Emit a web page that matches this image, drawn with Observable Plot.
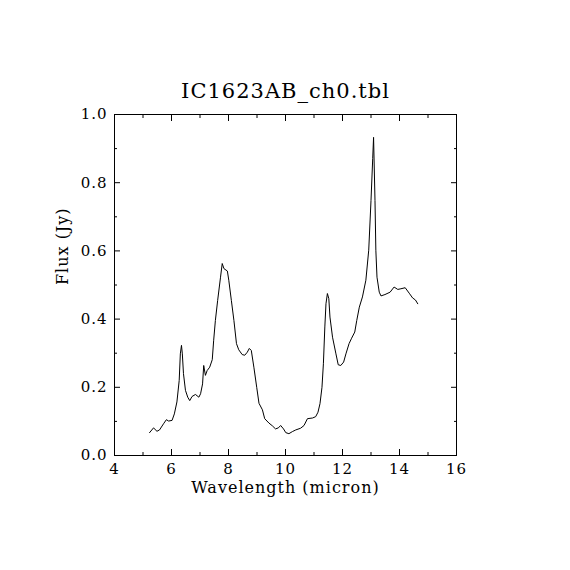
<!DOCTYPE html>
<html>
<head>
<meta charset="utf-8">
<script src="https://cdn.jsdelivr.net/npm/d3@7"></script>
<script src="https://cdn.jsdelivr.net/npm/@observablehq/plot@0.6"></script>
<style>
  html, body { margin: 0; padding: 0; background: #fff; }
</style>
</head>
<body>
<div id="chart"></div>
<script>
// IRS spectrum of IC1623AB (channel 0): wavelength in micron, flux in Jy
const wavelength = [
  5.23, 5.37, 5.49, 5.58, 5.72, 5.82, 5.90, 6.02, 6.10, 6.19, 6.27, 6.31, 6.35, 6.38,
  6.42, 6.49, 6.57, 6.64, 6.72, 6.84, 6.96, 7.02, 7.09, 7.13, 7.19, 7.25, 7.34, 7.43,
  7.48, 7.54, 7.62, 7.72, 7.78, 7.84, 7.96, 8.01, 8.10, 8.19, 8.28, 8.36, 8.48, 8.57,
  8.66, 8.73, 8.80, 8.89, 8.99, 9.07, 9.19, 9.27, 9.42, 9.54, 9.65, 9.75, 9.83, 9.93,
  10.01, 10.12, 10.24, 10.36, 10.53, 10.65, 10.77, 10.95, 11.06, 11.14, 11.21, 11.28,
  11.33, 11.38, 11.42, 11.47, 11.52, 11.56, 11.65, 11.77, 11.85, 11.94, 12.04, 12.12,
  12.23, 12.32, 12.43, 12.50, 12.59, 12.70, 12.82, 12.92, 13.00, 13.06, 13.09, 13.14,
  13.17, 13.21, 13.29, 13.35, 13.49, 13.67, 13.81, 13.94, 14.05, 14.20, 14.34, 14.46,
  14.56, 14.64
];
const flux = [
  0.067, 0.081, 0.071, 0.075, 0.093, 0.105, 0.101, 0.103, 0.122, 0.157, 0.220, 0.298, 0.323, 0.298,
  0.240, 0.191, 0.171, 0.161, 0.173, 0.179, 0.171, 0.181, 0.210, 0.264, 0.235, 0.249, 0.259, 0.281,
  0.338, 0.396, 0.455, 0.523, 0.563, 0.548, 0.541, 0.514, 0.455, 0.396, 0.328, 0.310, 0.296, 0.294,
  0.303, 0.314, 0.308, 0.259, 0.200, 0.153, 0.134, 0.108, 0.095, 0.087, 0.078, 0.081, 0.088, 0.078,
  0.067, 0.064, 0.070, 0.075, 0.080, 0.088, 0.108, 0.110, 0.114, 0.127, 0.152, 0.200,
  0.269, 0.377, 0.445, 0.475, 0.460, 0.406, 0.347, 0.298, 0.266, 0.264, 0.274, 0.298,
  0.328, 0.344, 0.362, 0.396, 0.435, 0.465, 0.514, 0.602, 0.748, 0.871, 0.933, 0.748,
  0.602, 0.523, 0.479, 0.468, 0.472, 0.479, 0.494, 0.487, 0.489, 0.492, 0.476, 0.462,
  0.456, 0.445
];

const title = "IC1623AB_ch0.tbl";
const xLabel = "Wavelength (micron)";
const yLabel = "Flux (Jy)";

const xMajor = [4, 6, 8, 10, 12, 14, 16];
const xMinor = [5, 7, 9, 11, 13, 15];
const yMajor = [0, 0.2, 0.4, 0.6, 0.8, 1.0];
const yMinor = [0.1, 0.3, 0.5, 0.7, 0.9];

const spectrum = wavelength.map((w, i) => ({w, f: flux[i]}));

const fmtY = d3.format(".1f");
const blank = () => "";

const chart = Plot.plot({
  width: 570,
  height: 570,
  marginLeft: 114,
  marginRight: 114,
  marginTop: 114,
  marginBottom: 115,
  style: {fontFamily: "'DejaVu Serif', serif", fontSize: "14px", color: "#000", background: "#fff", letterSpacing: "1px"},
  x: {domain: [4, 16]},
  y: {domain: [0, 1]},
  marks: [
    // inward major and minor ticks on all four sides
    Plot.axisX(xMajor, {anchor: "bottom", tickSize: -6, tickFormat: blank, label: null}),
    Plot.axisX(xMajor, {anchor: "top", tickSize: -6, tickFormat: blank, label: null}),
    Plot.axisX(xMinor, {anchor: "bottom", tickSize: -3, tickFormat: blank, label: null}),
    Plot.axisX(xMinor, {anchor: "top", tickSize: -3, tickFormat: blank, label: null}),
    Plot.axisY(yMajor, {anchor: "left", tickSize: -6, tickFormat: blank, label: null}),
    Plot.axisY(yMajor, {anchor: "right", tickSize: -6, tickFormat: blank, label: null}),
    Plot.axisY(yMinor, {anchor: "left", tickSize: -3, tickFormat: blank, label: null}),
    Plot.axisY(yMinor, {anchor: "right", tickSize: -3, tickFormat: blank, label: null}),
    // tick labels
    Plot.axisX(xMajor, {anchor: "bottom", tickSize: 0, tickPadding: 8, label: null, fontSize: 15}),
    Plot.axisY(yMajor, {anchor: "left", tickSize: 0, tickPadding: 7, tickFormat: fmtY, label: null, fontSize: 15}),
    Plot.frame({stroke: "#000", strokeWidth: 1}),
    Plot.line(spectrum, {x: "w", y: "f", stroke: "#000", strokeWidth: 1}),
    // title and axis titles
    Plot.text([title], {text: d => d, frameAnchor: "top", dy: -31, fontSize: 21}),
    Plot.text([xLabel], {text: d => d, frameAnchor: "bottom", dy: 37, fontSize: 16}),
    Plot.text([yLabel], {text: d => d, frameAnchor: "left", dx: -52, rotate: -90, fontSize: 16})
  ]
});

document.getElementById("chart").appendChild(chart);
</script>
</body>
</html>
